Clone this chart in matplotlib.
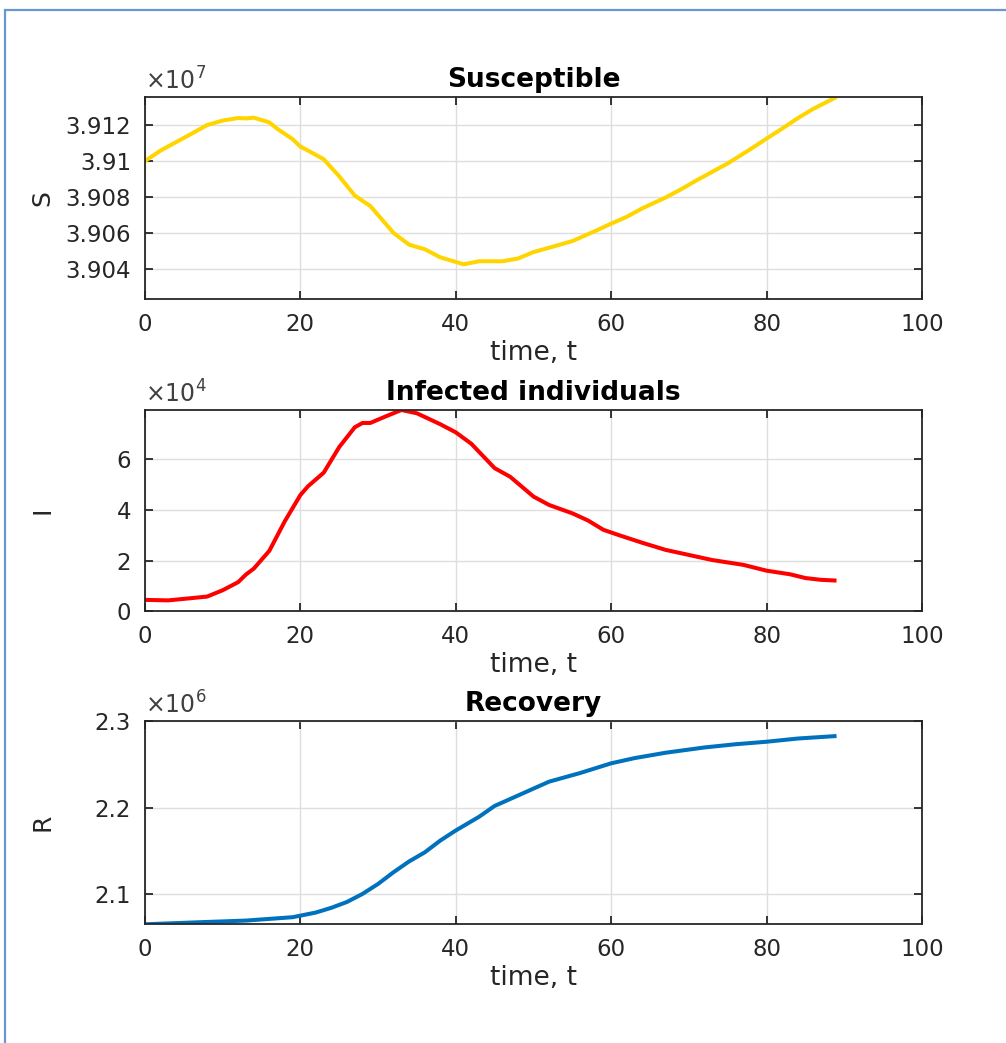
import numpy as np
import matplotlib
matplotlib.use("Agg")
import matplotlib.pyplot as plt
from matplotlib.patches import Rectangle
from matplotlib.ticker import FuncFormatter

t_S = [0, 2, 4, 6, 8, 10, 12, 13, 14, 16, 17, 19, 20, 21, 23, 25, 26, 27, 29, 30,
       32, 34, 36, 38, 41, 43, 46, 48, 50, 52, 55, 58, 60, 62, 64, 67, 69, 71, 73,
       75, 78, 80, 82, 84, 86, 89]
S = [3.91000, 3.91058, 3.91105, 3.91152, 3.91200, 3.91225, 3.91239, 3.91237, 3.91241,
     3.91215, 3.91180, 3.91122, 3.91080, 3.91058, 3.91010, 3.90915, 3.90862, 3.90808,
     3.90750, 3.90700, 3.90600, 3.90535, 3.90510, 3.90465, 3.90426, 3.90443, 3.90443,
     3.90458, 3.90494, 3.90518, 3.90555, 3.90612, 3.90652, 3.90690, 3.90737, 3.90797,
     3.90843, 3.90893, 3.90940, 3.90987, 3.91068, 3.91125, 3.91180, 3.91238, 3.91290,
     3.91356]
S = [v * 1e7 for v in S]

t_I = [0, 3, 6, 8, 10, 12, 13, 14, 16, 18, 20, 21, 23, 25, 27, 28, 29, 31, 33, 35,
       38, 40, 42, 45, 47, 50, 52, 55, 57, 59, 61, 64, 67, 70, 73, 77, 80, 83, 85,
       87, 89]
I = [0.45, 0.43, 0.52, 0.58, 0.83, 1.15, 1.45, 1.68, 2.38, 3.55, 4.58, 4.93, 5.46,
     6.47, 7.25, 7.42, 7.42, 7.68, 7.93, 7.80, 7.37, 7.05, 6.60, 5.64, 5.30, 4.52,
     4.19, 3.86, 3.58, 3.21, 3.00, 2.70, 2.42, 2.22, 2.02, 1.83, 1.60, 1.46, 1.31,
     1.24, 1.21]
I = [v * 1e4 for v in I]

t_R = [0, 7, 13, 19, 22, 24, 26, 28, 30, 32, 34, 36, 38, 40, 43, 45, 48, 52, 56,
       60, 63, 67, 72, 76, 80, 84, 89]
R = [2.0654, 2.0678, 2.0697, 2.0736, 2.0790, 2.0845, 2.0912, 2.1005, 2.1120, 2.1256,
     2.1380, 2.1484, 2.1620, 2.1737, 2.1895, 2.2020, 2.2140, 2.2300, 2.2400, 2.2512,
     2.2572, 2.2634, 2.2695, 2.2732, 2.2761, 2.2798, 2.2827]
R = [v * 1e6 for v in R]

panels = [
    ("Susceptible", "S", t_S, S, "#FFD500", 7, (3.90233, max(S) / 1e7), [3.904, 3.906, 3.908, 3.910, 3.912]),
    ("Infected individuals", "I", t_I, I, "#FF0000", 4, (0, max(I) / 1e4), [0, 2, 4, 6]),
    ("Recovery", "R", t_R, R, "#0072BD", 6, (min(R) / 1e6, 2.3), [2.1, 2.2, 2.3]),
]
rects = [
    [0.1441, 0.7133, 0.7724, 0.1937],
    [0.1441, 0.4139, 0.7724, 0.1930],
    [0.1441, 0.1138, 0.7724, 0.1949],
]

plt.rcParams["font.family"] = "DejaVu Sans"
tick_col = "#262626"

fig = plt.figure(figsize=(10.06, 10.43), dpi=100)
fig.patches.append(Rectangle((0.005, -0.05), 1.1, 0.9905 + 0.05, transform=fig.transFigure,
                             fill=False, edgecolor="#6A96D2", linewidth=1.6))

for (title, ylab, t, vals, col, exp, ylim, yt), r in zip(panels, rects):
    ax = fig.add_axes(r)
    scale = 10.0 ** exp
    ax.plot(t, np.array(vals) / scale, color=col, linewidth=2.9, solid_capstyle="butt")
    ax.set_xlim(0, 100)
    ax.set_ylim(*ylim)
    ax.set_xticks([0, 20, 40, 60, 80, 100])
    ax.set_yticks(yt)
    ax.yaxis.set_major_formatter(FuncFormatter(lambda v, p: "%g" % round(v, 6)))
    ax.grid(True, color="#dedede", linewidth=1.0)
    ax.set_axisbelow(True)
    for sp in ax.spines.values():
        sp.set_color(tick_col)
        sp.set_linewidth(1.3)
    ax.tick_params(direction="in", length=6, width=1.3, top=True, right=True,
                   labelsize=16.5, colors=tick_col, pad=10)
    ax.set_title(title, fontsize=19, fontweight="bold", pad=7)
    ax.set_xlabel("time, t", fontsize=19, color=tick_col, labelpad=3)
    ax.set_ylabel(ylab, fontsize=18, color=tick_col)
    ax.yaxis.set_label_coords(-0.117, 0.5)
    ax.text(0.0, 1.01, r"$\times10^{%d}$" % exp, transform=ax.transAxes,
            fontsize=17, color="#404040", ha="left", va="bottom")

fig.savefig("out.png", dpi=100)
